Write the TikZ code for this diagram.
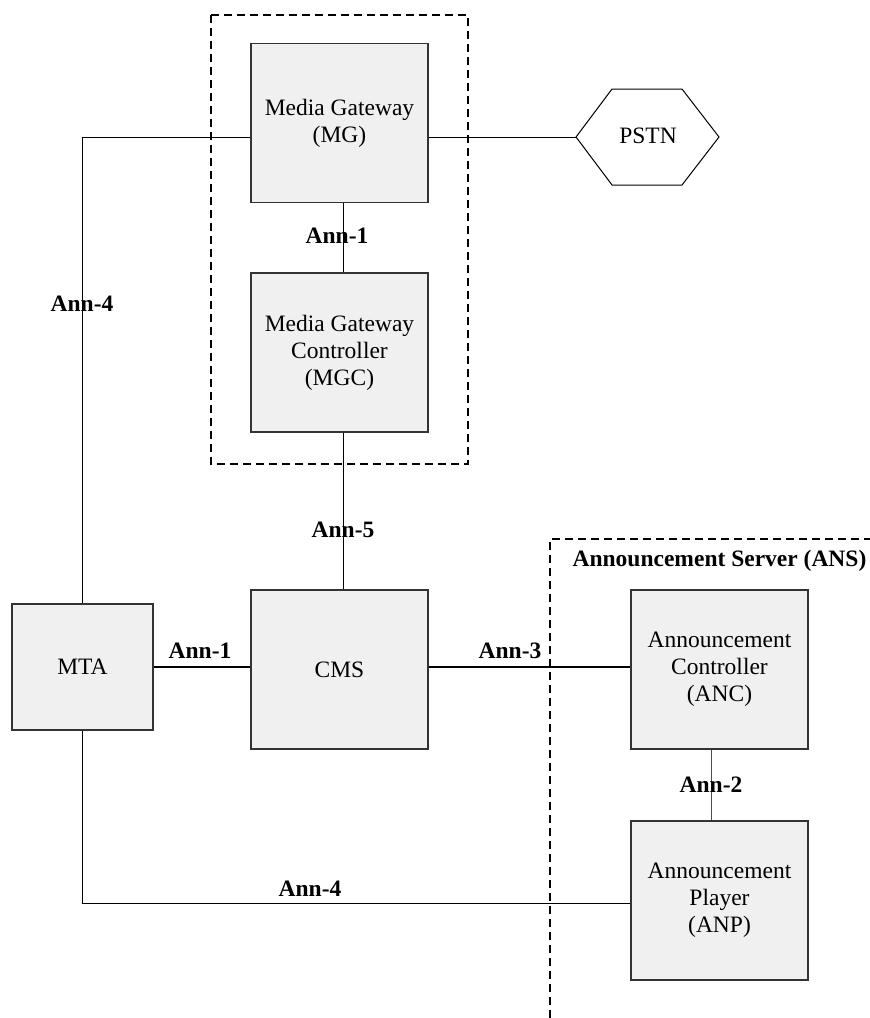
\documentclass[tikz,border=0pt]{standalone}
\usepackage{fontspec}
\setmainfont{Liberation Serif}
\usepackage{tikz}
\definecolor{boxgray}{RGB}{240,240,240}
\tikzset{
	unit/.style={draw=black!80, fill=boxgray, line width=1.2pt, minimum width=177pt, minimum height=159pt, inner sep=0pt, align=center, font=\fontsize{23.5}{27}\selectfont},
	lbl/.style={font=\fontsize{23.5}{27}\selectfont\bfseries, inner sep=0pt},
	link/.style={line width=1pt},
	biglink/.style={line width=2pt},
	group/.style={line width=1.8pt, dash pattern=on 8pt off 5pt}
}

\begin{document}
\begin{tikzpicture}[x=1pt, y=-1pt]
		\useasboundingbox (0,0) rectangle (870,1018);
		% dashed groups
		\draw[group] (211,15) rectangle (468,464);
		\draw[group] (550,1018) -- (550,539) -- (870,539);
		\node[lbl] (ansname) at (719.5,561) {Announcement Server (ANS)};
		% units
		\node[unit] (MG) at (339.5,123) {Media Gateway\\(MG)};
		\node[unit] (MGC) at (339.5,352.5) {Media Gateway\\Controller\\(MGC)};
		\node[unit] (CMS) at (339.5,669.5) {CMS};
		\node[unit] (ANC) at (719.5,669.5) {Announcement\\Controller\\(ANC)};
		\node[unit] (ANP) at (719.5,900.5) {Announcement\\Player\\(ANP)};
		\node[unit, minimum width=141pt, minimum height=126pt] (MTA) at (82.5,667) {MTA};
		% PSTN
		\coordinate (pstnW) at (576,137);
		\coordinate (pstnE) at (719,137);
		\draw[line width=1pt] (pstnW) -- (612,89) -- (682,89) -- (pstnE) -- (682,185) -- (612,185) -- cycle;
		\node[font=\fontsize{23.5}{27}\selectfont] (PSTN) at (648,136) {PSTN};
		% links
		\draw[link] (MTA.north) |- ([yshift=-14pt]MG.west);
		\draw[link] ([yshift=-14pt]MG.east) -- (pstnW);
		\draw[link] ([xshift=3.5pt]MG.south) -- ([xshift=3.5pt]MGC.north);
		\draw[link] ([xshift=3.5pt]MGC.south) -- ([xshift=3.5pt]CMS.north);
		\draw[biglink] (MTA.east) -- (MTA.east -| CMS.west);
		\draw[biglink] ([yshift=2.5pt]CMS.east) -- ([yshift=2.5pt]CMS.east -| ANC.west);
		\draw[link, black!70] ([xshift=-8.5pt]ANC.south) -- ([xshift=-8.5pt]ANP.north);
		\draw[link] (MTA.south) |- ([yshift=-2.5pt]ANP.west);
		% labels
		\node[lbl] (l1a) at (337,236) {Ann-1};
		\node[lbl] (l4a) at (82,304) {Ann-4};
		\node[lbl] (l5) at (343,530) {Ann-5};
		\node[lbl] (l1b) at (200,651) {Ann-1};
		\node[lbl] (l3) at (510,651) {Ann-3};
		\node[lbl] (l2) at (711,785) {Ann-2};
		\node[lbl] (l4b) at (310,889) {Ann-4};
\end{tikzpicture}
\end{document}
